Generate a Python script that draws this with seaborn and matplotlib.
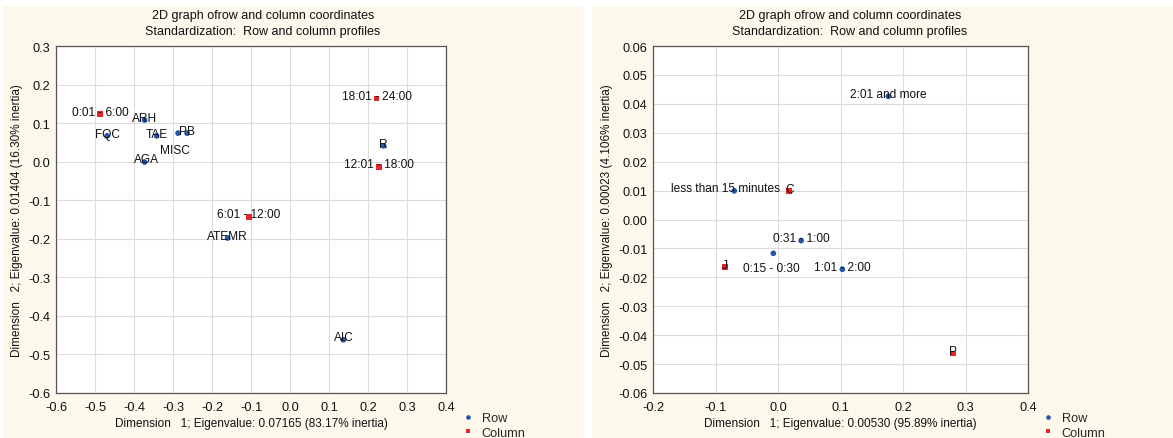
import numpy as np
import pandas as pd
import matplotlib
matplotlib.use("Agg")
import matplotlib.pyplot as plt
import seaborn as sns
from matplotlib.patches import Rectangle

# ---- data: left panel (time of day) ----
left_row_labels = ["FQC", "ARH", "TAE", "MISC", "PB", "AGA", "R", "ATEMR", "AIC"]
left_row_x = [-0.469, -0.373, -0.342, -0.287, -0.264, -0.373, 0.240, -0.160, 0.137]
left_row_y = [0.067, 0.108, 0.067, 0.074, 0.074, -0.001, 0.041, -0.198, -0.462]
left_col_labels = ["0:01 - 6:00", "18:01 - 24:00", "12:01 - 18:00", "6:01 - 12:00"]
left_col_x = [-0.487, 0.222, 0.228, -0.106]
left_col_y = [0.123, 0.164, -0.013, -0.143]
left_xticks = [-0.6, -0.5, -0.4, -0.3, -0.2, -0.1, 0.0, 0.1, 0.2, 0.3, 0.4]
left_yticks = [-0.6, -0.5, -0.4, -0.3, -0.2, -0.1, 0.0, 0.1, 0.2, 0.3]
left_xlabel = "Dimension   1; Eigenvalue: 0.07165 (83.17% inertia)"
left_ylabel = "Dimension   2; Eigenvalue: 0.01404 (16.30% inertia)"

# ---- data: right panel (duration) ----
right_row_labels = ["2:01 and more", "less than 15 minutes", "0:31 - 1:00", "0:15 - 0:30", "1:01 - 2:00"]
right_row_x = [0.1765, -0.070, 0.037, -0.0075, 0.103]
right_row_y = [0.0426, 0.0099, -0.0073, -0.0117, -0.0172]
right_col_labels = ["C", "J", "P"]
right_col_x = [0.0181, -0.0848, 0.2795]
right_col_y = [0.0098, -0.0164, -0.0463]
right_xticks = [-0.2, -0.1, 0.0, 0.1, 0.2, 0.3, 0.4]
right_yticks = [-0.06, -0.05, -0.04, -0.03, -0.02, -0.01, 0.00, 0.01, 0.02, 0.03, 0.04, 0.05, 0.06]
right_xlabel = "Dimension   1; Eigenvalue: 0.00530 (95.89% inertia)"
right_ylabel = "Dimension   2; Eigenvalue: 0.00023 (4.106% inertia)"

title = "2D graph ofrow and column coordinates\nStandardization:  Row and column profiles"

# label offsets (points) for labels that are not placed straight above their point
label_offsets = {
    "MISC": (-2, -14),
    "0:15 - 0:30": (-1.5, -13),
    "less than 15 minutes": (-6, 0),
    "AGA": (1.5, 0),
}

BLUE = "#2456a8"
RED = "#e8242a"
CREAM = "#fcf8ec"

sns.set_theme(style="whitegrid")
plt.rcParams["font.family"] = ["Liberation Sans", "DejaVu Sans"]
plt.rcParams["font.size"] = 9


def make_frame(row_labels, row_x, row_y, col_labels, col_x, col_y):
    rows = pd.DataFrame({"label": row_labels, "x": row_x, "y": row_y, "kind": "Row"})
    cols = pd.DataFrame({"label": col_labels, "x": col_x, "y": col_y, "kind": "Column"})
    return pd.concat([rows, cols], ignore_index=True)


def draw_panel(fig, rect, df, xticks, yticks, xfmt, yfmt, xlabel, ylabel, title_x, legend_x):
    ax = fig.add_axes(rect)
    ax.set_facecolor("white")
    sns.scatterplot(data=df, x="x", y="y", hue="kind", style="kind",
                    hue_order=["Row", "Column"], style_order=["Row", "Column"],
                    palette={"Row": BLUE, "Column": RED},
                    markers={"Row": "o", "Column": "s"},
                    s=17, linewidth=0, ax=ax, zorder=3)
    for _, r in df.iterrows():
        dx, dy = label_offsets.get(r["label"], (0, -0.5))
        ax.annotate(r["label"], (r["x"], r["y"]), xytext=(dx, dy),
                    textcoords="offset points", ha="center", va="baseline",
                    fontsize=8.6, color="#111111", zorder=4)
    ax.set_xlim(xticks[0], xticks[-1])
    ax.set_ylim(yticks[0], yticks[-1])
    ax.set_xticks(xticks)
    ax.set_yticks(yticks)
    ax.set_xticklabels([xfmt % v for v in xticks])
    ax.set_yticklabels([yfmt % v for v in yticks])
    ax.grid(True, color="#dcdcdc", linewidth=0.8)
    for sp in ax.spines.values():
        sp.set_color("#555555")
        sp.set_linewidth(0.9)
    ax.tick_params(axis="both", direction="in", length=3, width=0.8, color="#555555",
                   labelsize=9.2, labelcolor="#111111")
    ax.tick_params(axis="x", pad=6)
    ax.tick_params(axis="y", pad=4)
    ax.set_xlabel(xlabel, fontsize=8.5, color="#111111", labelpad=3)
    ax.set_ylabel(ylabel, fontsize=8.5, color="#111111", labelpad=4)
    ax.text(title_x, 1.027, title, transform=ax.transAxes, ha="center", va="bottom",
            fontsize=9, color="#111111", linespacing=1.45)
    handles, labels = ax.get_legend_handles_labels()
    ax.legend(handles=handles, labels=labels, loc="lower left",
              bbox_to_anchor=(legend_x, -0.022), bbox_transform=fig.transFigure,
              frameon=False, fontsize=9.2, handletextpad=0.1, labelspacing=0.2,
              markerscale=0.8, borderpad=0.2)
    return ax


W, H = 1173, 439
fig = plt.figure(figsize=(W / 100, H / 100), dpi=100, facecolor="white")
fig.patches.append(Rectangle((3 / W, 0), 581 / W, 1 - 7 / H, transform=fig.transFigure,
                             facecolor=CREAM, edgecolor="none", zorder=-10))
fig.patches.append(Rectangle((592 / W, 0), 581 / W, 1 - 7 / H, transform=fig.transFigure,
                             facecolor=CREAM, edgecolor="none", zorder=-10))

left_df = make_frame(left_row_labels, left_row_x, left_row_y, left_col_labels, left_col_x, left_col_y)
right_df = make_frame(right_row_labels, right_row_x, right_row_y, right_col_labels, right_col_x, right_col_y)

draw_panel(fig, [56 / W, 1 - 394 / H, 390 / W, 347 / H], left_df, left_xticks, left_yticks,
           "%.1f", "%.1f", left_xlabel, left_ylabel, 0.531, 446 / W)
draw_panel(fig, [653 / W, 1 - 394 / H, 375 / W, 347 / H], right_df, right_xticks, right_yticks,
           "%.1f", "%.2f", right_xlabel, right_ylabel, 0.525, 1026 / W)

fig.savefig("out.png", dpi=100, facecolor=fig.get_facecolor())
